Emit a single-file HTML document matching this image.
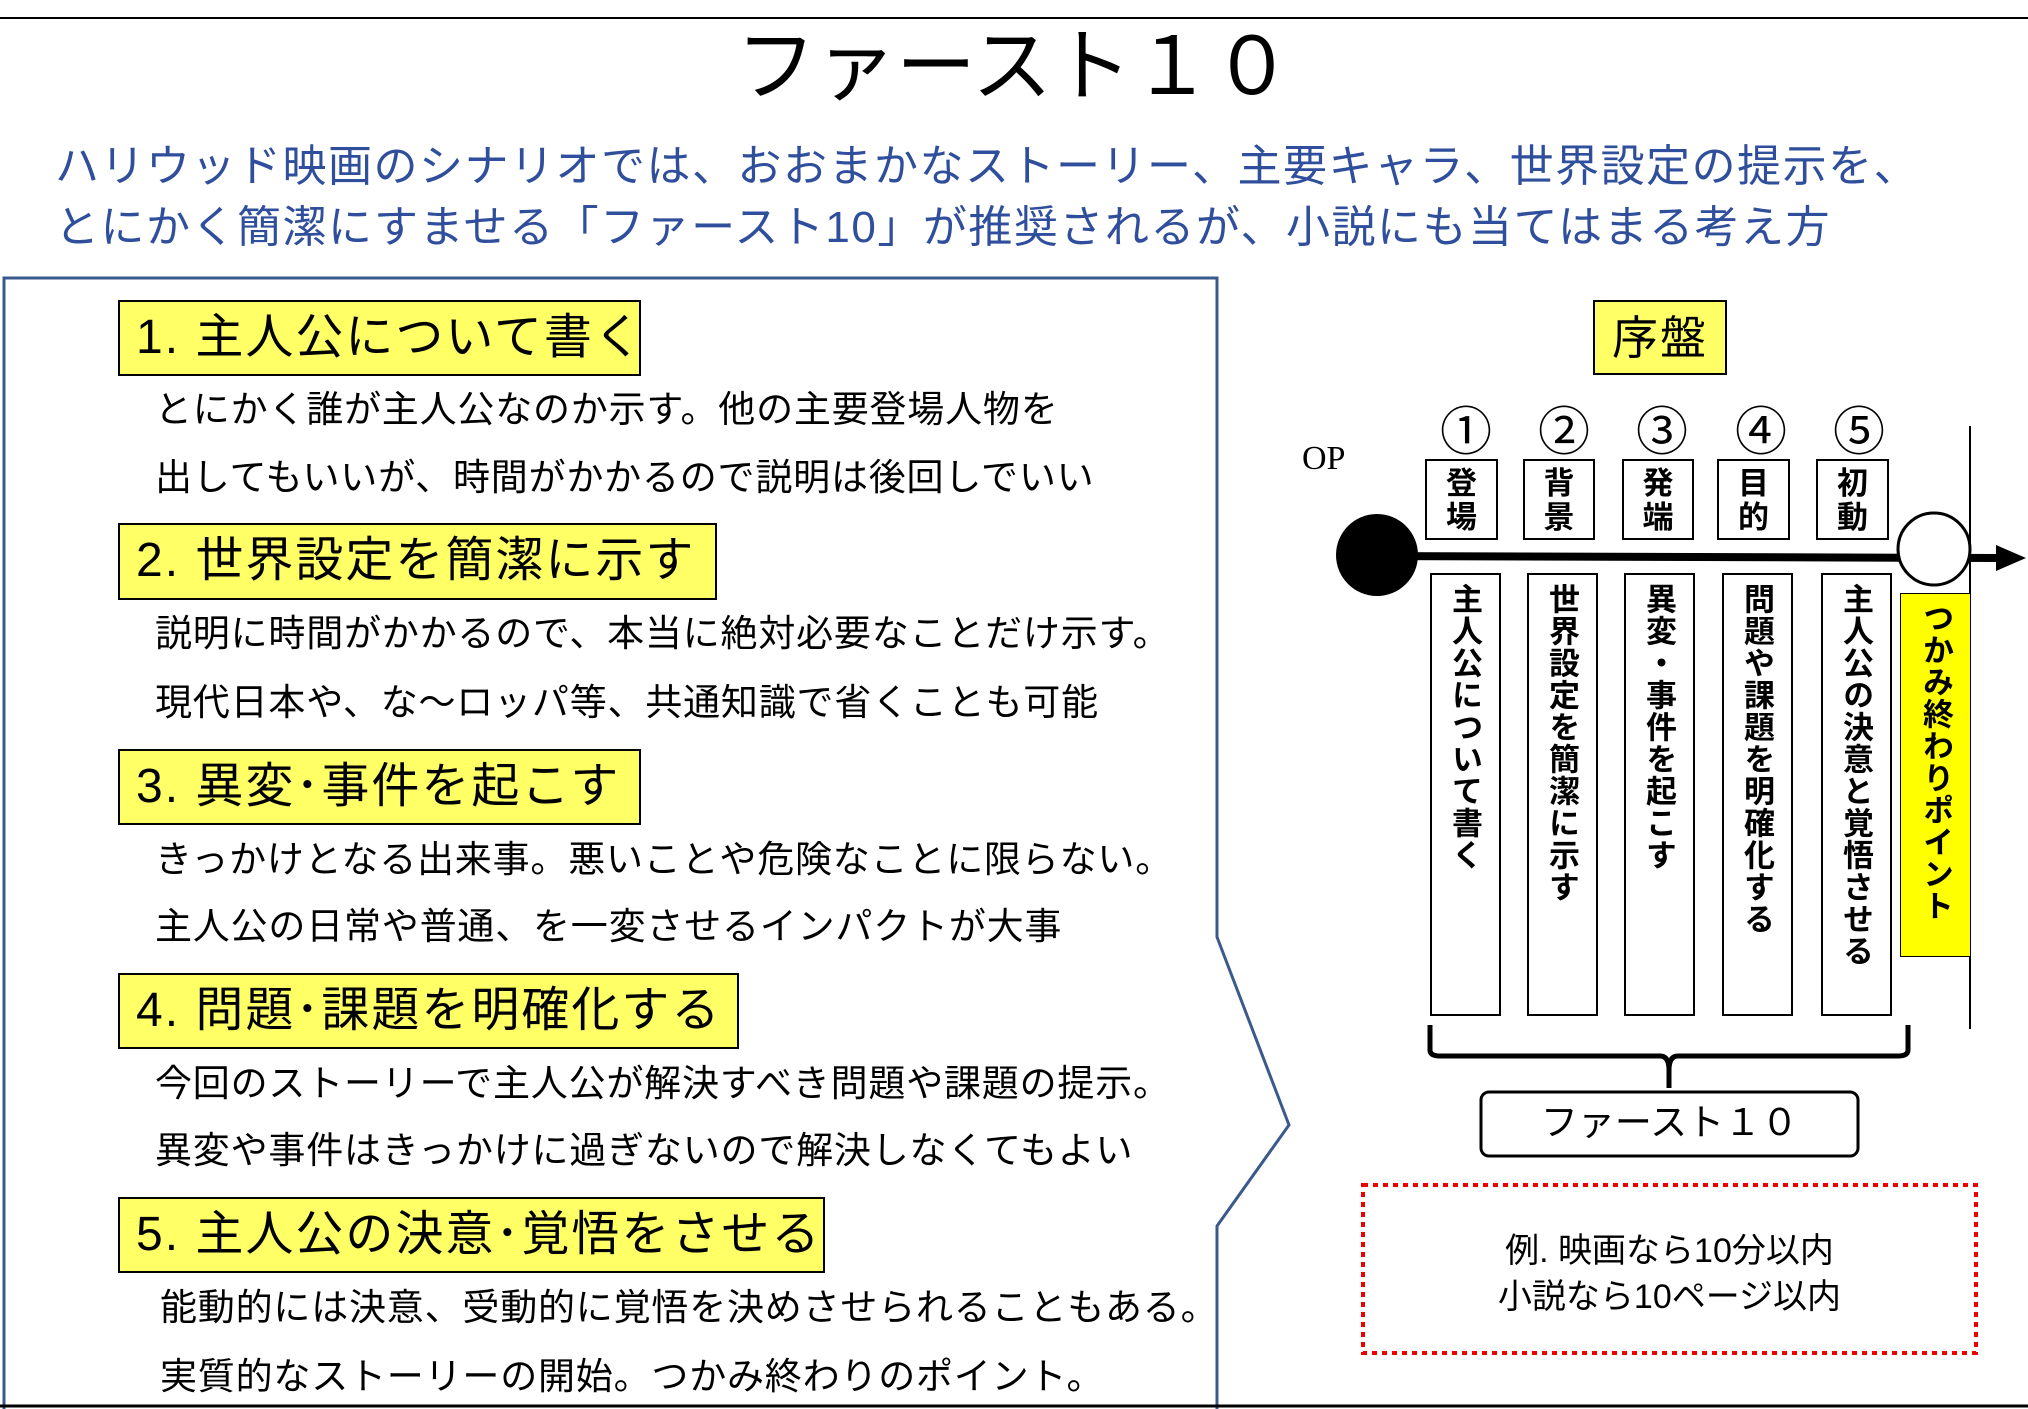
<!DOCTYPE html>
<html><head><meta charset="utf-8"><style>
body{margin:0;width:2028px;height:1409px;background:#fff;position:relative;overflow:hidden;font-family:"Liberation Sans","Noto Sans CJK JP",sans-serif;color:#000}
.a{position:absolute;white-space:nowrap}
.h{position:absolute;background:#ffff66;border:2px solid #000;box-sizing:border-box;font-size:48px;line-height:72px;padding-left:16px;white-space:nowrap;letter-spacing:2px}
.d{position:absolute;left:155px;font-size:37px;line-height:40px;white-space:nowrap;letter-spacing:0.8px}
.sb{position:absolute;border:2px solid #000;box-sizing:border-box;background:#fff;font-size:31px;font-weight:bold;line-height:34px;text-align:center;padding-top:6px}
.tb{position:absolute;border:2px solid #000;box-sizing:border-box;background:#fff;top:573px;height:443px;width:71px;font-size:31px;font-weight:bold;writing-mode:vertical-rl;text-orientation:upright;line-height:69px;padding-top:8px;letter-spacing:1px}
.n{position:absolute;top:390px;font-size:52px;width:70px;text-align:center}
</style></head><body>
<svg width="2028" height="1409" style="position:absolute;left:0;top:0">
<line x1="0" y1="18" x2="2028" y2="18" stroke="#000" stroke-width="2"/>
<polyline points="4,1409 4,278 1217,278 1217,937 1289,1125 1217,1226 1217,1409" fill="none" stroke="#3a5a8c" stroke-width="3"/>
<line x1="0" y1="1406" x2="2028" y2="1406" stroke="#000" stroke-width="3"/>
<line x1="1970" y1="426" x2="1970" y2="1029" stroke="#000" stroke-width="2"/>
<line x1="1377" y1="556" x2="2000" y2="558" stroke="#000" stroke-width="8"/>
<polygon points="1996,545 2026,558 1996,571" fill="#000"/>
<circle cx="1377" cy="555" r="41" fill="#000"/>
<circle cx="1934" cy="549" r="36" fill="#fff" stroke="#000" stroke-width="3"/>
<path d="M1430,1025 L1430,1050 Q1430,1056 1440,1056 L1660,1056 Q1669,1056 1669,1070 L1669,1088 M1669,1070 Q1669,1056 1678,1056 L1898,1056 Q1908,1056 1908,1050 L1908,1025" fill="none" stroke="#000" stroke-width="5"/>
<rect x="1481" y="1092" width="377" height="64" rx="8" fill="#fff" stroke="#000" stroke-width="3"/>
<rect x="1363" y="1185" width="613" height="168" fill="none" stroke="#e00" stroke-width="4" stroke-dasharray="5,5"/>
</svg>
<div class="a" style="left:0;width:2028px;text-align:center;top:22px;font-size:80px;line-height:90px">ファースト１０</div>
<div class="a" style="left:55px;top:142px;font-size:44px;line-height:50px;color:#2f4e9c;letter-spacing:1.5px">ハリウッド映画のシナリオでは、おおまかなストーリー、主要キャラ、世界設定の提示を、</div>
<div class="a" style="left:55px;top:203px;font-size:44px;line-height:50px;color:#2f4e9c;letter-spacing:1.5px">とにかく簡潔にすませる「ファースト10」が推奨されるが、小説にも当てはまる考え方</div>

<div class="h" style="left:118px;top:300px;width:523px;height:76px">1. 主人公について書く</div>
<div class="d" style="top:390px">とにかく誰が主人公なのか示す。他の主要登場人物を</div>
<div class="d" style="top:458px">出してもいいが、時間がかかるので説明は後回しでいい</div>
<div class="h" style="left:118px;top:523px;width:599px;height:77px">2. 世界設定を簡潔に示す</div>
<div class="d" style="top:614px">説明に時間がかかるので、本当に絶対必要なことだけ示す。</div>
<div class="d" style="top:683px">現代日本や、な～ロッパ等、共通知識で省くことも可能</div>
<div class="h" style="left:118px;top:749px;width:523px;height:76px">3. 異変･事件を起こす</div>
<div class="d" style="top:840px">きっかけとなる出来事。悪いことや危険なことに限らない。</div>
<div class="d" style="top:907px">主人公の日常や普通、を一変させるインパクトが大事</div>
<div class="h" style="left:118px;top:973px;width:621px;height:76px">4. 問題･課題を明確化する</div>
<div class="d" style="top:1064px">今回のストーリーで主人公が解決すべき問題や課題の提示。</div>
<div class="d" style="top:1131px">異変や事件はきっかけに過ぎないので解決しなくてもよい</div>
<div class="h" style="left:118px;top:1197px;width:707px;height:76px">5. 主人公の決意･覚悟をさせる</div>
<div class="d" style="top:1288px;left:160px">能動的には決意、受動的に覚悟を決めさせられることもある。</div>
<div class="d" style="top:1357px;left:160px">実質的なストーリーの開始。つかみ終わりのポイント。</div>

<div class="h" style="left:1593px;top:300px;width:134px;height:75px;font-size:46px;padding-left:17px">序盤</div>
<div class="n" style="left:1431px">①</div><div class="n" style="left:1529px">②</div><div class="n" style="left:1627px">③</div><div class="n" style="left:1726px">④</div><div class="n" style="left:1824px">⑤</div>
<div class="a" style="left:1302px;top:440px;font-family:'Liberation Serif',serif;font-size:34px">OP</div>
<div class="sb" style="left:1425px;top:459px;width:73px;height:81px">登<br>場</div>
<div class="sb" style="left:1523px;top:459px;width:72px;height:81px">背<br>景</div>
<div class="sb" style="left:1622px;top:459px;width:72px;height:81px">発<br>端</div>
<div class="sb" style="left:1717px;top:459px;width:73px;height:81px">目<br>的</div>
<div class="sb" style="left:1816px;top:459px;width:73px;height:81px">初<br>動</div>
<div class="tb" style="left:1430px">主人公について書く</div>
<div class="tb" style="left:1527px">世界設定を簡潔に示す</div>
<div class="tb" style="left:1624px">異変・事件を起こす</div>
<div class="tb" style="left:1722px">問題や課題を明確化する</div>
<div class="tb" style="left:1821px">主人公の決意と覚悟させる</div>
<div class="tb" style="left:1900px;top:593px;height:364px;width:71px;background:#ffff00;border-width:1px">つかみ終わりポイント</div>
<div class="a" style="left:1481px;width:377px;top:1098px;text-align:center;font-size:37px;line-height:50px">ファースト１０</div>
<div class="a" style="left:1363px;width:613px;top:1228px;text-align:center;font-size:34px;line-height:46px">例. 映画なら10分以内<br>小説なら10ページ以内</div>
</body></html>
